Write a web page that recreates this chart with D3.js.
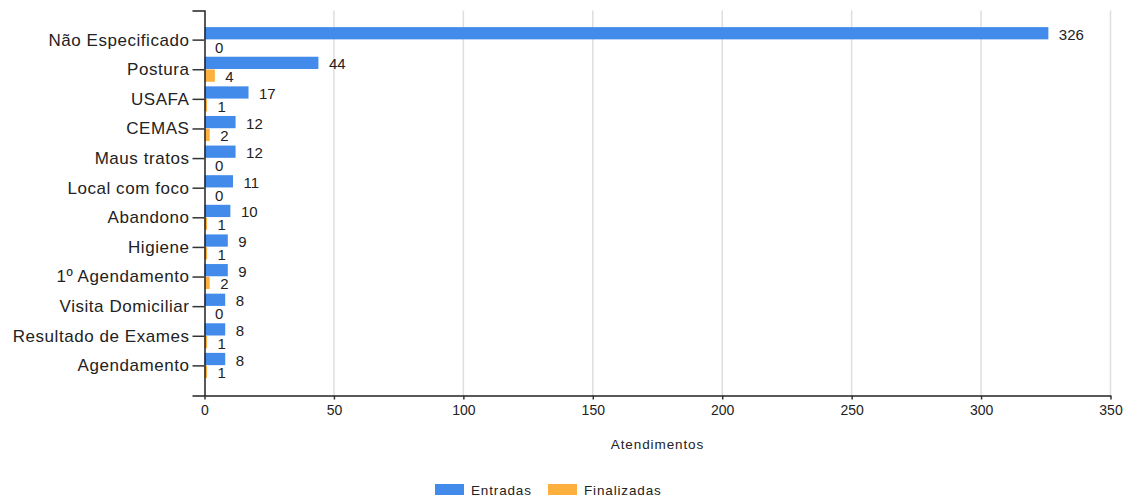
<!DOCTYPE html>
<html>
<head>
<meta charset="utf-8">
<script src="https://cdn.jsdelivr.net/npm/d3@7"></script>
<style>
  html, body { margin: 0; padding: 0; background: #fff; }
  svg { display: block; font-family: "Liberation Sans", Arial, sans-serif; }
</style>
</head>
<body>
<svg id="chart" width="1138" height="502"></svg>
<script>
// Atendimentos por motivo
const categories = [
  "Não Especificado", "Postura", "USAFA", "CEMAS", "Maus tratos",
  "Local com foco", "Abandono", "Higiene", "1º Agendamento",
  "Visita Domiciliar", "Resultado de Exames", "Agendamento"
];
const seriesNames = ["Entradas", "Finalizadas"];
const entradas    = [326, 44, 17, 12, 12, 11, 10, 9, 9, 8, 8, 8];
const finalizadas = [0, 4, 1, 2, 0, 0, 1, 1, 2, 0, 1, 1];
const xTicks = [0, 50, 100, 150, 200, 250, 300, 350];
const axisTitle = "Atendimentos";

const colors = { "Entradas": "#428BEA", "Finalizadas": "#FDB03E" };
const FONT = "'Liberation Sans', Arial, sans-serif";

const svg = d3.select("#chart");
const plot = { left: 204.5, right: 1110.5, top: 10.5, bottom: 395.5 };

const x = d3.scaleLinear().domain([0, 350]).range([plot.left, plot.right]);
const y = d3.scaleBand().domain(categories).range([plot.top, plot.bottom])
  .paddingInner(0).paddingOuter(0.5);
const sub = d3.scaleBand().domain(seriesNames).range([-13, 12]).paddingInner(0.04);

const rows = categories.map((c, i) => ({
  cat: c,
  vals: [
    { s: "Entradas", v: entradas[i] },
    { s: "Finalizadas", v: finalizadas[i] }
  ]
}));
const center = c => y(c) + y.bandwidth() / 2;

// vertical gridlines
svg.append("g").selectAll("line").data(xTicks.slice(1)).join("line")
  .attr("x1", d => x(d)).attr("x2", d => x(d))
  .attr("y1", plot.top).attr("y2", plot.bottom)
  .attr("stroke", "#dedede").attr("stroke-width", 1.5);

// bars
const groups = svg.append("g").selectAll("g").data(rows).join("g")
  .attr("transform", d => `translate(0,${center(d.cat)})`);

groups.selectAll("rect").data(d => d.vals).join("rect")
  .attr("x", x(0))
  .attr("y", d => sub(d.s))
  .attr("width", d => x(d.v) - x(0))
  .attr("height", sub.bandwidth())
  .attr("fill", d => colors[d.s]);

groups.selectAll("text").data(d => d.vals).join("text")
  .attr("x", d => x(d.v) + 10.5)
  .attr("y", d => sub(d.s) + sub.bandwidth() / 2 + 1)
  .attr("dominant-baseline", "central")
  .attr("font-family", FONT)
  .attr("font-size", 15)
  .attr("fill", "#222")
  .text(d => d.v);

// y axis
const yAxis = svg.append("g")
  .attr("transform", `translate(${plot.left},0)`)
  .call(d3.axisLeft(y).tickSize(12).tickSizeOuter(12).tickPadding(3));
yAxis.select(".domain").attr("stroke", "#222").attr("stroke-width", 1.5);
yAxis.selectAll(".tick line").attr("stroke", "#333").attr("stroke-width", 1.5);
yAxis.selectAll(".tick text")
  .attr("font-size", 17).attr("fill", "#222")
  .attr("letter-spacing", 0.55)
  .attr("font-family", FONT);

// x axis
const xAxis = svg.append("g")
  .attr("transform", `translate(0,${plot.bottom})`)
  .call(d3.axisBottom(x).tickValues(xTicks).tickSize(4).tickSizeOuter(0).tickPadding(6));
xAxis.select(".domain").attr("stroke", "#222").attr("stroke-width", 1.5);
xAxis.selectAll(".tick line").attr("stroke", "#333").attr("stroke-width", 1.5);
xAxis.selectAll(".tick text")
  .attr("font-size", 14).attr("fill", "#222")
  .attr("font-family", FONT);

svg.append("text")
  .attr("x", (plot.left + plot.right) / 2).attr("y", 444)
  .attr("text-anchor", "middle").attr("dominant-baseline", "central")
  .attr("font-family", FONT)
  .attr("font-size", 13.5).attr("letter-spacing", 0.9).attr("fill", "#222")
  .text(axisTitle);

// legend
const legendItems = [
  { s: "Entradas", x: 435 },
  { s: "Finalizadas", x: 548 }
];
const legend = svg.append("g").selectAll("g").data(legendItems).join("g")
  .attr("transform", d => `translate(${d.x},484)`);
legend.append("rect").attr("width", 29).attr("height", 11)
  .attr("fill", d => colors[d.s]);
legend.append("text").attr("x", 36).attr("y", 6)
  .attr("dominant-baseline", "central")
  .attr("font-family", FONT)
  .attr("font-size", 13.5).attr("letter-spacing", 0.85).attr("fill", "#222")
  .text(d => d.s);
</script>
</body>
</html>
